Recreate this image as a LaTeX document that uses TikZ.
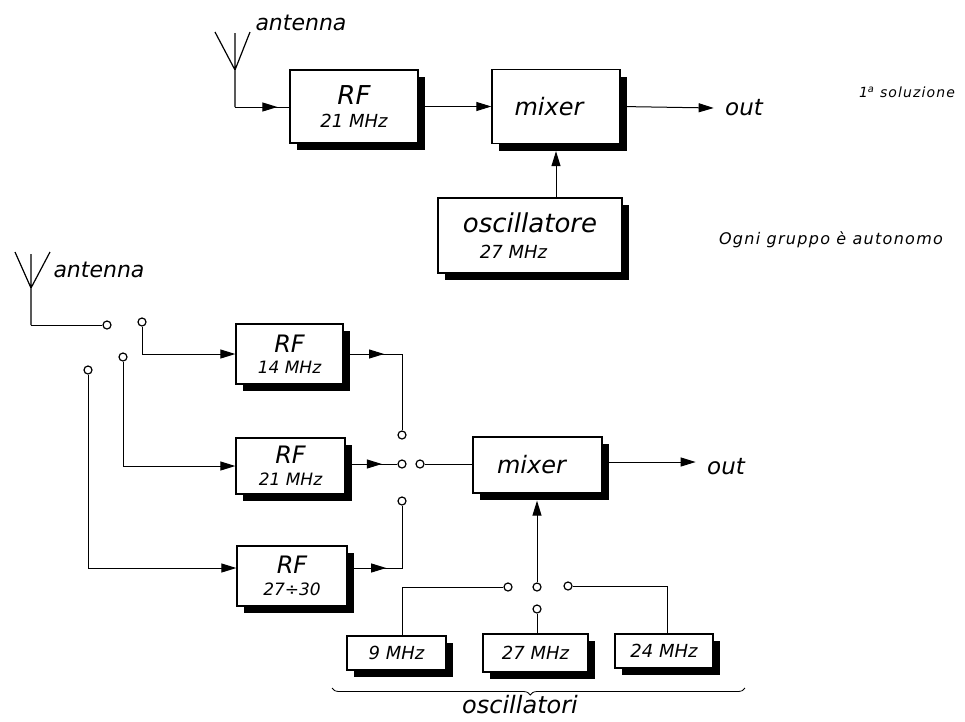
\documentclass[tikz,border=0pt]{standalone}
\usepackage{fontspec}
\setmainfont{DejaVu Sans}
\usetikzlibrary{arrows.meta,positioning,shadows,decorations.markings,decorations.pathreplacing}

\begin{document}
\begin{tikzpicture}[
    x=1pt, y=-1pt,
    font=\itshape,
    line width=1pt,
    blk/.style={draw, fill=white, line width=1.3pt, inner sep=0pt, align=center,
      drop shadow={shadow xshift=7pt, shadow yshift=-7pt, fill=black, opacity=1}},
    contact/.style={circle, draw, fill=white, line width=1.2pt, inner sep=0pt, minimum size=8pt},
    flow/.style={-{Triangle[length=15pt,width=9pt]}},
    midflow/.style={postaction={decorate}, decoration={markings,
        mark=at position #1 with {\arrow{Triangle[length=15pt,width=9pt]}}}},
    lbl/.style={font=\itshape\fontsize{22}{24}\selectfont, inner sep=0pt},
    note/.style={inner sep=0pt}
  ]
    \useasboundingbox (0,0) rectangle (965,721);

    % 1a soluzione
    \coordinate (ant1) at (235,107);
    \draw[line width=1.2pt] (215,32) -- (235,70) -- (250,32) (235,33) -- (ant1);
    \node[lbl, anchor=west] (antlbl1) at (255,23) {antenna};

    \node[blk, minimum width=128pt, minimum height=73pt] (rf1) at (354,106.5)
      {\fontsize{26}{26}\selectfont RF\\[9pt]\fontsize{18}{18}\selectfont 21 MHz};
    \node[blk, minimum width=128pt, minimum height=74pt, font=\itshape\fontsize{24}{24}\selectfont] (mix1) at (556,106.5) {mixer\hspace*{14pt}};
    \node[blk, minimum width=184pt, minimum height=75pt, align=left] (osc1) at (530,235.5)
      {\fontsize{26}{26}\selectfont oscillatore\\[12pt]\fontsize{18}{18}\selectfont\hspace*{17pt}27 MHz};
    \node[lbl, font=\itshape\fontsize{23}{24}\selectfont] (out1) at (744,108) {out};
    \node[note, font=\itshape\fontsize{14}{15}\selectfont\addfontfeature{LetterSpace=8}] (note1) at (907,92) {1\textsuperscript{a} soluzione};
    \node[note, font=\itshape\fontsize{16}{18}\selectfont\addfontfeature{LetterSpace=8}] (note2) at (831,240) {Ogni gruppo è autonomo};

    \draw[midflow=0.78] (ant1) -- (rf1.west |- ant1);
    \draw[flow] (rf1.east) -- (mix1.west);
    \draw[flow] (mix1.east) -- ([xshift=-11pt]out1.west);
    \draw[flow] (osc1.north -| mix1.south) -- ([yshift=-7pt]mix1.south);

    % 2a soluzione
    \coordinate (ant2) at (31,325);
    \draw[line width=1.2pt] (15,252) -- (31,288) -- (50,252) (31,254) -- (ant2);
    \node[lbl, anchor=west] (antlbl2) at (53,270) {antenna};

    \node[contact] (s1a) at (107,325) {};
    \node[contact] (s1b) at (142,322) {};
    \node[contact] (s1c) at (123,357) {};
    \node[contact] (s1d) at (88,370) {};

    \node[blk, minimum width=107pt, minimum height=60pt] (rf14) at (289.5,354)
      {\fontsize{24}{24}\selectfont RF\\[8pt]\fontsize{17}{17}\selectfont 14 MHz};
    \node[blk, minimum width=109pt, minimum height=56pt] (rf21) at (290.5,466)
      {\fontsize{24}{24}\selectfont RF\\[8pt]\fontsize{17}{17}\selectfont 21 MHz};
    \node[blk, minimum width=110pt, minimum height=60pt] (rf27) at (292,576)
      {\fontsize{24}{24}\selectfont RF\\[8pt]\fontsize{17}{17}\selectfont 27÷30};

    \node[contact] (s2a) at (402,435) {};
    \node[contact] (s2b) at (402,464) {};
    \node[contact] (s2c) at (402,501) {};
    \node[contact] (s2o) at (420,464) {};

    \node[blk, minimum width=129pt, minimum height=56pt, font=\itshape\fontsize{24}{24}\selectfont] (mix2) at (537.5,465) {mixer\hspace*{12pt}};
    \node[lbl, font=\itshape\fontsize{23}{24}\selectfont] (out2) at (726,467) {out};

    \node[contact] (s3o) at (537,587) {};
    \node[contact] (s3a) at (508,587) {};
    \node[contact] (s3b) at (537,609) {};
    \node[contact] (s3c) at (568,586) {};

    \node[blk, minimum width=99pt, minimum height=34pt, font=\itshape\fontsize{18}{18}\selectfont] (o9) at (396.5,653) {9 MHz};
    \node[blk, minimum width=105pt, minimum height=38pt, font=\itshape\fontsize{18}{18}\selectfont] (o27) at (535.5,653) {27 MHz};
    \node[blk, minimum width=98pt, minimum height=34pt, font=\itshape\fontsize{18}{18}\selectfont] (o24) at (664,651) {24 MHz};

    \draw (ant2) -- (s1a);
    \draw[flow] (s1b) |- (rf14.west);
    \draw[flow] (s1c) |- (rf21.west);
    \draw[flow] (s1d) |- ([yshift=8pt]rf27.west);

    \draw[midflow=0.3] (rf14.east) -| (s2a);
    \draw[midflow=0.7] (rf21.east |- s2b) -- (s2b);
    \draw[midflow=0.33] ([yshift=8pt]rf27.east) -| (s2c);
    \draw (s2o) -- (mix2.west |- s2o);
    \draw[flow] (mix2.east |- 0,462) -- ([xshift=-11pt]out2.west |- 0,462);
    \draw[flow] (s3o) -- ([yshift=-7pt]mix2.south -| s3o);

    \draw ([xshift=6pt]o9.north) |- (s3a);
    \draw (o27.north -| s3b) -- (s3b);
    \draw (s3c) -| ([xshift=3pt]o24.north);

    \coordinate (bl) at (332,688);
    \coordinate (br) at (745,688);
    \draw[line width=0.8pt, decorate, decoration={brace, mirror, amplitude=7pt, aspect=0.48}] (bl) -- (br);
    \node[lbl, font=\itshape\fontsize{24}{24}\selectfont] (osclbl) at (520,705) {oscillatori};
\end{tikzpicture}
\end{document}
